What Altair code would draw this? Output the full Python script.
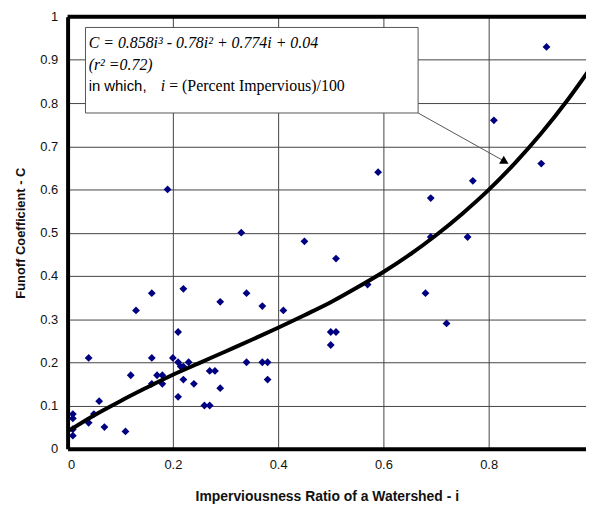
import altair as alt
import pandas as pd

# Observed points (imperviousness ratio i, runoff coefficient C)
pts_x = [0.01, 0.01, 0.01, 0.01, 0.04, 0.04, 0.05, 0.06, 0.07, 0.11,
         0.12, 0.13, 0.16, 0.16, 0.16, 0.17, 0.18, 0.18, 0.19, 0.20,
         0.21, 0.21, 0.215, 0.22, 0.23, 0.22, 0.22, 0.21, 0.24, 0.26,
         0.27, 0.27, 0.28, 0.29, 0.29, 0.33, 0.34, 0.34, 0.37, 0.37,
         0.38, 0.38, 0.41, 0.45, 0.50, 0.51, 0.50, 0.51, 0.57, 0.59,
         0.68, 0.69, 0.69, 0.72, 0.76, 0.77, 0.81, 0.90, 0.91]
pts_y = [0.08, 0.07, 0.045, 0.03, 0.21, 0.06, 0.08, 0.11, 0.05, 0.04,
         0.17, 0.32, 0.36, 0.21, 0.15, 0.17, 0.17, 0.15, 0.60, 0.21,
         0.27, 0.20, 0.19, 0.19, 0.20, 0.37, 0.16, 0.12, 0.15, 0.10,
         0.10, 0.18, 0.18, 0.34, 0.14, 0.50, 0.36, 0.20, 0.33, 0.20,
         0.20, 0.16, 0.32, 0.48, 0.27, 0.27, 0.24, 0.44, 0.38, 0.64,
         0.36, 0.58, 0.49, 0.29, 0.49, 0.62, 0.76, 0.66, 0.93]

# Fitted curve
curve_x = [0.0, 0.05, 0.1, 0.15, 0.2, 0.25, 0.3, 0.35, 0.4, 0.45, 0.5,
           0.55, 0.6, 0.65, 0.7, 0.75, 0.8, 0.85, 0.9, 0.95, 1.0]
curve_y = [0.040, 0.077, 0.110, 0.141, 0.171, 0.198, 0.225, 0.252, 0.280,
           0.309, 0.339, 0.373, 0.409, 0.449, 0.494, 0.544, 0.599, 0.661,
           0.730, 0.807, 0.892]

# Tick values
x_ticks = [0, 0.2, 0.4, 0.6, 0.8]
y_ticks = [0, 0.1, 0.2, 0.3, 0.4, 0.5, 0.6, 0.7, 0.8, 0.9, 1.0]

# Annotation
box = {"x": 0.034, "x2": 0.666, "y": 0.777, "y2": 0.975}
arrow = {"x": 0.666, "y": 0.777, "x2": 0.826, "y2": 0.668}
arrow_head = {"x": 0.831, "y": 0.664}
serif_italic_lines = ["C = 0.858i³ - 0.78i² + 0.774i + 0.04", "(r² =0.72)"]
serif_italic_x = [0.040, 0.040]
serif_italic_y = [0.9386, 0.889]
sans_text = "in which,"
sans_x, sans_y = 0.040, 0.839
i_text, i_x = "i", 0.177
eq_text, eq_x = "= (Percent Impervious)/100", 0.193

X_MAX = 0.985

pts = pd.DataFrame({"i": pts_x, "C": pts_y})
curve = pd.DataFrame({"i": curve_x, "C": curve_y})

xscale = alt.Scale(domain=[0, X_MAX], nice=False, zero=False)
yscale = alt.Scale(domain=[0, 1], nice=False)

xaxis = alt.Axis(values=x_ticks, format="~g", ticks=False, grid=True,
                 gridColor="#444", gridWidth=1, domainColor="black", domainWidth=4,
                 labelFont="Liberation Sans", labelFontSize=13, labelColor="#111",
                 labelPadding=10, title="Imperviousness Ratio of a Watershed - i",
                 titleFont="Liberation Sans", titleFontSize=14, titleFontWeight="bold",
                 titleColor="#111", titlePadding=18)
yaxis = alt.Axis(values=y_ticks, format="~g", ticks=False, grid=True,
                 gridColor="#444", gridWidth=1, domainColor="black", domainWidth=4,
                 labelFont="Liberation Sans", labelFontSize=13, labelColor="#111",
                 labelPadding=10, title="Funoff Coefficient - C",
                 titleFont="Liberation Sans", titleFontSize=13, titleFontWeight="bold",
                 titleColor="#111", titlePadding=12)

base_pts = alt.Chart(pts).mark_point(shape="diamond", filled=True, color="#000080",
                                     size=62, opacity=1).encode(
    x=alt.X("i:Q", scale=xscale, axis=xaxis),
    y=alt.Y("C:Q", scale=yscale, axis=yaxis),
)

line = alt.Chart(curve).mark_line(color="black", strokeWidth=4, clip=True,
                                  interpolate="monotone").encode(
    x=alt.X("i:Q", scale=xscale), y=alt.Y("C:Q", scale=yscale))

top_border = alt.Chart(pd.DataFrame({"C": [1.0]})).mark_rule(
    color="black", strokeWidth=4).encode(y=alt.Y("C:Q", scale=yscale))

box_layer = alt.Chart(pd.DataFrame([box])).mark_rect(
    fill="white", stroke="#555", strokeWidth=1).encode(
    x=alt.X("x:Q", scale=xscale), x2="x2:Q",
    y=alt.Y("y:Q", scale=yscale), y2="y2:Q")

arrow_line = alt.Chart(pd.DataFrame([arrow])).mark_rule(
    color="#555", strokeWidth=1).encode(
    x=alt.X("x:Q", scale=xscale), x2="x2:Q",
    y=alt.Y("y:Q", scale=yscale), y2="y2:Q")

arrow_tip = alt.Chart(pd.DataFrame([arrow_head])).mark_point(
    shape="triangle-up", filled=True, color="black", size=90, angle=120,
    opacity=1).encode(x=alt.X("x:Q", scale=xscale), y=alt.Y("y:Q", scale=yscale))

serif_lines = alt.Chart(pd.DataFrame({"t": serif_italic_lines, "x": serif_italic_x,
                                      "y": serif_italic_y})).mark_text(
    align="left", baseline="middle", font="Liberation Serif", fontStyle="italic",
    fontSize=16, color="black").encode(
    x=alt.X("x:Q", scale=xscale), y=alt.Y("y:Q", scale=yscale), text="t:N")

sans_line = alt.Chart(pd.DataFrame({"t": [sans_text], "x": [sans_x],
                                    "y": [sans_y]})).mark_text(
    align="left", baseline="middle", font="Liberation Sans", fontSize=15,
    color="black").encode(
    x=alt.X("x:Q", scale=xscale), y=alt.Y("y:Q", scale=yscale), text="t:N")

i_line = alt.Chart(pd.DataFrame({"t": [i_text], "x": [i_x],
                                 "y": [sans_y]})).mark_text(
    align="left", baseline="middle", font="Liberation Serif", fontStyle="italic",
    fontSize=16, color="black").encode(
    x=alt.X("x:Q", scale=xscale), y=alt.Y("y:Q", scale=yscale), text="t:N")

eq_line = alt.Chart(pd.DataFrame({"t": [eq_text], "x": [eq_x],
                                  "y": [sans_y]})).mark_text(
    align="left", baseline="middle", font="Liberation Serif", fontSize=16,
    color="black").encode(
    x=alt.X("x:Q", scale=xscale), y=alt.Y("y:Q", scale=yscale), text="t:N")

chart = alt.layer(
    base_pts, line, top_border, arrow_line, arrow_tip, box_layer,
    serif_lines, sans_line, i_line, eq_line
).properties(
    width=522, height=435,
    autosize=alt.AutoSizeParams(type="none"),
    padding={"left": 60, "top": 7, "right": 0, "bottom": 55},
    background="white",
).configure_view(stroke=None)

chart.save("out.html", embed_options={"renderer": "svg", "actions": False})
